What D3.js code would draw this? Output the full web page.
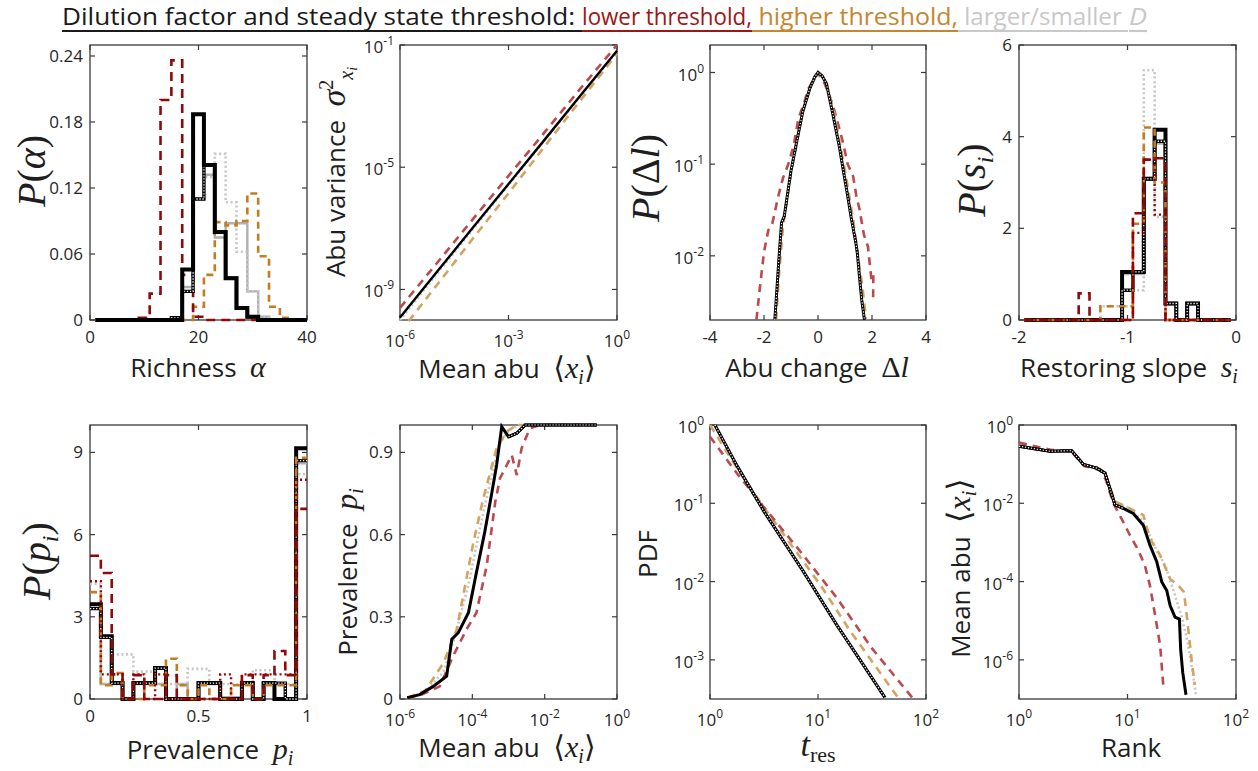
<!DOCTYPE html>
<html>
<head>
<meta charset="utf-8">
<script src="https://cdn.jsdelivr.net/npm/d3@7"></script>
<style>
  body { margin: 0; background: #fff; }
  text { white-space: pre; }
</style>
</head>
<body>
<svg id="fig" width="1258" height="771"></svg>
<script>
// ================= DATA =================

// Richness histogram (stairs edges, bin heights)
const richnessEdges   = [1,3,5,7,9,11,13,15,17,19,21,23,25,27,29,31,33,35,37,39,40];
const richnessBase    = [0,0,0,0,0,0,0,0,0.046,0.187,0.141,0.080,0.038,0.011,0.003,0,0,0,0,0];
const richnessSmallD  = [0,0,0,0,0,0,0,0.002,0.026,0.110,0.141,0.080,0.038,0.011,0.003,0,0,0,0,0];
const richnessLargeD  = [0,0,0,0,0,0,0,0,0.030,0.110,0.132,0.075,0.088,0.088,0.026,0.003,0,0,0,0];
const richnessGrayDot = [0,0,0,0,0,0,0,0.002,0.026,0.110,0.130,0.151,0.107,0.062,0.026,0.003,0,0,0,0];
const richnessLowThr  = [0,0,0,0,0.002,0.024,0.200,0.236,0.041,0.003,0,0,0,0,0,0,0,0,0,0];
const richnessHighThr = [0,0,0,0,0,0,0,0,0,0.012,0.041,0.089,0.086,0.090,0.115,0.058,0.012,0.002,0,0];

// Abundance variance vs mean abundance
const meanAbuGrid      = [1e-6,1e-5,1e-4,1e-3,1e-2,1e-1,1];
const varianceBase     = [1.2e-10,3.5e-9,1.0e-7,2.8e-6,8.0e-5,2.3e-3,6.5e-2];
const varianceGray     = [1.0e-10,3.0e-9,8.8e-8,2.6e-6,7.6e-5,2.2e-3,6.2e-2];
const varianceLowThr   = [2.5e-10,6.8e-9,1.9e-7,5.2e-6,1.4e-4,3.9e-3,1.0e-1];
const varianceHighThr  = [4.0e-11,1.3e-9,4.4e-8,1.4e-6,4.8e-5,1.6e-3,5.2e-2];

// Abundance change distribution
const changeBaseX  = [-1.6,-1.54,-1.45,-1.35,-1.25,-1.0,-0.75,-0.56,-0.31,-0.12,0,0.15,0.31,0.56,0.8,0.93,1.1,1.23,1.4,1.46,1.54,1.62,1.72];
const changeBaseP  = [0.002,0.0036,0.009,0.023,0.027,0.085,0.2,0.38,0.66,0.9,1.0,0.92,0.76,0.34,0.15,0.088,0.045,0.026,0.014,0.0105,0.0058,0.0033,0.002];
const changeLowX   = [-2.28,-2.16,-2.0,-1.84,-1.7,-1.47,-1.3,-1.1,-0.9,-0.73,-0.5,-0.36,-0.15,0,0.2,0.4,0.56,0.75,0.93,1.1,1.3,1.42,1.54,1.7,1.85,1.92,1.98,2.05,2.04];
const changeLowP   = [0.002,0.0043,0.011,0.019,0.022,0.045,0.07,0.1,0.16,0.31,0.48,0.66,0.85,0.97,0.82,0.58,0.43,0.27,0.17,0.1,0.074,0.045,0.032,0.017,0.0126,0.008,0.0055,0.0062,0.0033];
const changeHighX  = [-1.55,-1.45,-1.3,-1.0,-0.6,-0.3,0,0.3,0.6,1.0,1.3,1.5,1.65,1.78];
const changeHighP  = [0.002,0.006,0.02,0.08,0.33,0.68,1.0,0.8,0.36,0.085,0.025,0.009,0.0045,0.002];

// Restoring slope histogram
const slopeEdges    = [-1.95,-1.85,-1.75,-1.65,-1.55,-1.45,-1.35,-1.25,-1.15,-1.05,-0.95,-0.85,-0.75,-0.65,-0.55,-0.45,-0.35,-0.25,-0.15,-0.05];
const slopeBase     = [0,0,0,0,0,0,0,0,0,1.05,1.05,3.08,4.15,0.36,0,0.36,0,0,0];
const slopeSmallD   = [0,0,0,0,0,0,0,0,0,0.65,1.05,3.08,3.9,0.36,0,0.36,0,0,0];
const slopeLargeD   = [0,0,0,0,0,0,0,0,0,1.0,1.0,3.1,3.85,0,0,0,0,0,0];
const slopeGrayDot  = [0,0,0,0,0,0,0,0.3,0.3,0.3,0.65,5.45,2.25,0,0,0,0,0,0];
const slopeLowThr   = [0,0,0,0,0,0.58,0,0,0,0,2.33,3.5,3.53,0,0,0,0,0,0];
const slopeLowThr2  = [0,0,0,0,0,0,0,0,0,0,1.9,3.5,2.3,0,0,0,0,0,0];
const slopeHighThr  = [0,0,0,0,0,0,0,0.3,0.3,0.3,2.1,4.2,3.0,0,0,0,0,0,0];

// Prevalence histogram
const prevEdges     = [0,0.05,0.1,0.15,0.2,0.25,0.3,0.35,0.4,0.45,0.5,0.55,0.6,0.65,0.7,0.75,0.8,0.85,0.9,0.95,1.0];
const prevBase      = [3.46,2.29,0.58,0,0.58,0.58,1.13,0,0,0,0.58,0.58,0,0,0.58,0,0.58,0,0,9.15];
const prevSmallD    = [3.3,2.25,0.58,0,0.58,0.58,1.13,0,0,0,0.58,0.58,0,0,0.58,0,0.58,0.58,0,8.7];
const prevLargeD    = [3.3,0.55,0.55,0,0.55,0.55,0.55,0,0.55,0,0.55,0.55,0.07,0.07,0.55,0,0.55,0.55,0,8.6];
const prevGrayDot   = [4.2,0.55,1.63,1.63,1.0,1.0,0.55,0.55,0.55,1.1,1.1,0.55,0.55,0.55,0.55,1.05,1.05,0.55,0.55,8.2];
const prevLowThr    = [5.23,4.6,0.9,0,0.87,0,0,0.87,0,0,0,0,0,0,0.87,0,0.87,1.75,0.87,6.94];
const prevLowThr2   = [4.3,0.9,0.9,0,0.9,0,0.9,0,0,0,0,0,0.9,0,0.9,0.9,0.9,0.9,0.9,8.0];
const prevHighThr   = [3.9,0.5,0.95,0,0,0.5,0.5,1.47,0.5,0,0.5,0,0,0.5,0.5,0,0.5,0.5,0.5,8.8];

// Prevalence vs mean abundance
const occBaseX   = [1.58e-6,3.5e-6,8.3e-6,1.95e-5,2.7e-5,4.1e-5,7.8e-5,1.3e-4,2.2e-4,3.5e-4,4.7e-4,6.5e-4,1.0e-3,1.7e-3,2.9e-3,0.275];
const occBaseP   = [0.005,0.016,0.046,0.083,0.218,0.242,0.315,0.462,0.609,0.756,0.854,0.994,0.957,0.97,1.0,1.0];
const occGrayX   = [1.6e-6,5e-6,1.6e-5,3.2e-5,7.9e-5,1.6e-4,3.2e-4,5.6e-4,1e-3,2e-3,0.275];
const occGrayP   = [0.004,0.025,0.1,0.22,0.42,0.62,0.8,0.93,0.98,1.0,1.0];
const occLowX    = [1.6e-6,4e-6,1.26e-5,2.95e-5,6.9e-5,1.3e-4,2.5e-4,4.3e-4,5.8e-4,8.9e-4,1.23e-3,1.7e-3,2.3e-3,3.9e-3,7.4e-3,0.275];
const occLowP    = [0.004,0.016,0.046,0.157,0.254,0.315,0.487,0.719,0.805,0.853,0.89,0.817,0.915,0.988,1.0,1.0];
const occHighX   = [1.6e-6,5e-6,1.6e-5,3.7e-5,1.07e-4,2e-4,4.7e-4,8.9e-4,1.7e-3,0.275];
const occHighP   = [0.004,0.03,0.132,0.254,0.572,0.731,0.915,0.976,1.0,1.0];

// Residence time PDF
const tresBaseT  = [1.11,1.78,3.16,7.31,14.9,25.1,41.7];
const tresBaseP  = [1.0,0.30,0.079,0.0135,0.0028,0.00095,0.00033];
const tresLowT   = [1,1.78,3.16,6.31,14.8,31.6,75.9];
const tresLowP   = [0.71,0.24,0.089,0.028,0.0063,0.0014,0.00032];
const tresHighT  = [1,1.78,3.31,10.5,20,55];
const tresHighP  = [1.0,0.28,0.081,0.0091,0.0023,0.00033];

// Rank abundance
const rankBaseR  = [1,1.93,3.06,3.92,5.2,6.2,7.67,9.16,11.3,14.0,16.1,18.6,20.7,23,24.7,27.4,30.1,30.9,32.3,34.6];
const rankBaseA  = [0.288,0.214,0.221,0.098,0.079,0.059,0.0091,0.0074,0.0055,0.00275,0.00085,0.00032,9.8e-5,5.9e-5,2.45e-5,1.23e-5,1.1e-5,1.86e-6,4.7e-7,1.29e-7];
const rankGrayR  = [1,1.93,3.06,3.92,5.2,6.2,7.67,10,14,17.8,22.4,26.3,31.6,35.5,39.8,42.7];
const rankGrayA  = [0.3,0.214,0.221,0.1,0.08,0.06,0.0105,0.0079,0.0035,0.00079,0.00025,6.3e-5,1.26e-5,3.2e-6,5e-7,1.26e-7];
const rankLowR   = [1,2.0,3.0,3.98,5.62,6.31,7.4,8.83,10.5,12.6,14.5,16.1,17.8,20,21.4];
const rankLowA   = [0.355,0.229,0.219,0.089,0.071,0.04,0.01,0.004,0.00155,6.3e-4,2.5e-4,7.9e-5,1.6e-5,2.3e-6,2.1e-7];
const rankHighR  = [1,1.93,3.06,3.92,5.2,6.2,7.67,9.82,14.0,16.1,20,24.7,29.5,33.1,35.5,38.9,41.7];
const rankHighA  = [0.316,0.214,0.221,0.1,0.083,0.063,0.0112,0.0081,0.005,0.00126,0.00047,0.000117,7.9e-5,5.4e-5,1.1e-5,1.05e-6,2.3e-7];

// Tick values
const richnessXTicks = [0,20,40],  richnessYTicks = [0,0.06,0.12,0.18,0.24];
const varXTicks = [1e-6,1e-3,1],   varYTicks = [1e-9,1e-5,1e-1];
const changeXTicks = [-4,-2,0,2,4], changeYTicks = [1,0.1,0.01];
const slopeXTicks = [-2,-1,0],     slopeYTicks = [0,2,4,6];
const prevXTicks = [0,0.5,1],      prevYTicks = [0,3,6,9];
const occXTicks = [1e-6,1e-4,1e-2,1], occYTicks = [0,0.3,0.6,0.9];
const tresXTicks = [1,10,100],     tresYTicks = [1,0.1,0.01,0.001];
const rankXTicks = [1,10,100],     rankYTicks = [1,1e-2,1e-4,1e-6];

// ================= DRAWING =================
const svg = d3.select("#fig");
const SANS = "'Open Sans','Noto Sans',sans-serif";
const SERIF = "'Liberation Serif','DejaVu Serif',serif";
const INK = "#262626";

const STYLE = {
  black:    { stroke: "#000", width: 4 },
  blackLn:  { stroke: "#000", width: 3 },
  gray:     { stroke: "#b0b0b0", width: 2.4 },
  grayDot:  { stroke: "#c6c6c6", width: 2.6, dash: "2,2.6" },
  redDash:  { stroke: "#8e0a0a", width: 2.6, dash: "9,6" },
  redDot:   { stroke: "#9c0000", width: 2.4, dash: "2,3" },
  orDash:   { stroke: "#c27c22", width: 2.6, dash: "7,5" },
  redLine:  { stroke: "#bb4a4f", width: 2.6, dash: "8,6" },
  orLine:   { stroke: "#d3a363", width: 2.6, dash: "8,6" }
};

const logLabel = exp => ({ base: "10", exp: String(exp) });

function makePanel(id, box, x, y, xTicks, yTicks, xFmt, yFmt) {
  const [bx, by, bw, bh] = box;
  x.range([bx, bx + bw]);
  y.range([by + bh, by]);
  const g = svg.append("g");
  // frame
  g.append("rect").attr("x", bx).attr("y", by).attr("width", bw).attr("height", bh)
    .attr("fill", "none").attr("stroke", "#3a3a3a").attr("stroke-width", 1.3);
  const tl = 5;
  xTicks.forEach(t => {
    const px = x(t);
    g.append("line").attr("x1", px).attr("x2", px).attr("y1", by + bh).attr("y2", by + bh - tl).attr("stroke", "#3a3a3a").attr("stroke-width", 1.2);
    g.append("line").attr("x1", px).attr("x2", px).attr("y1", by).attr("y2", by + tl).attr("stroke", "#3a3a3a").attr("stroke-width", 1.2);
    const f = xFmt(t);
    if (typeof f === "string") {
      g.append("text").attr("x", px).attr("y", by + bh + 23).attr("text-anchor", "middle")
        .attr("font-family", SANS).attr("font-size", 17).attr("fill", INK).text(f);
    } else {
      const tx = g.append("text").attr("x", px).attr("y", by + bh + 27).attr("text-anchor", "middle")
        .attr("font-family", SANS).attr("font-size", 17).attr("fill", INK);
      tx.append("tspan").text(f.base);
      tx.append("tspan").attr("dy", -8).attr("font-size", 12).text(f.exp);
    }
  });
  yTicks.forEach(t => {
    const py = y(t);
    g.append("line").attr("x1", bx).attr("x2", bx + tl).attr("y1", py).attr("y2", py).attr("stroke", "#3a3a3a").attr("stroke-width", 1.2);
    g.append("line").attr("x1", bx + bw).attr("x2", bx + bw - tl).attr("y1", py).attr("y2", py).attr("stroke", "#3a3a3a").attr("stroke-width", 1.2);
    const f = yFmt(t);
    if (typeof f === "string") {
      g.append("text").attr("x", bx - 7).attr("y", py + 6).attr("text-anchor", "end")
        .attr("font-family", SANS).attr("font-size", 17).attr("fill", INK).text(f);
    } else {
      const tx = g.append("text").attr("x", bx - 6).attr("y", py + 8).attr("text-anchor", "end")
        .attr("font-family", SANS).attr("font-size", 17).attr("fill", INK);
      tx.append("tspan").text(f.base);
      tx.append("tspan").attr("dy", -8).attr("font-size", 12).text(f.exp);
    }
  });
  g.append("clipPath").attr("id", "clip-" + id).append("rect")
    .attr("x", bx - 3).attr("y", by - 3).attr("width", bw + 6).attr("height", bh + 6);
  const plot = g.append("g").attr("clip-path", `url(#clip-${id})`);
  return { plot, x, y };
}

function drawPath(p, pts, style, curve) {
  const gen = d3.line().x(d => p.x(d[0])).y(d => p.y(d[1])).curve(curve || d3.curveLinear);
  const path = p.plot.append("path").attr("d", gen(pts)).attr("fill", "none")
    .attr("stroke", style.stroke).attr("stroke-width", style.width)
    .attr("stroke-linejoin", "miter").attr("stroke-linecap", "butt");
  if (style.dash) path.attr("stroke-dasharray", style.dash);
  return path;
}
// black line with white dots running inside it
function drawChecker(p, pts, width, curve) {
  drawPath(p, pts, { stroke: "#000", width: width }, curve);
  drawPath(p, pts, { stroke: "#fff", width: width * 0.38, dash: "1.3,1.7" }, curve);
}
const stairs = (edges, vals) => {
  const pts = vals.map((v, i) => [edges[i], v]);
  pts.push([edges[vals.length], vals[vals.length - 1]]);
  return pts;
};
const zip = (a, b) => a.map((v, i) => [v, b[i]]);
const step = d3.curveStepAfter;

const linFmt = d => String(d);
const expFmt = d => logLabel(Math.round(Math.log10(d)));

// ---- a: richness ----
{
  const p = makePanel("a", [90, 45, 217, 275], d3.scaleLinear().domain([0, 40]), d3.scaleLinear().domain([0, 0.25]),
    richnessXTicks, richnessYTicks, linFmt, d => d === 0 ? "0" : d.toFixed(2));
  drawPath(p, stairs(richnessEdges, richnessLargeD), STYLE.gray, step);
  drawPath(p, stairs(richnessEdges, richnessGrayDot), STYLE.grayDot, step);
  drawPath(p, stairs(richnessEdges, richnessHighThr), STYLE.orDash, step);
  drawPath(p, stairs(richnessEdges, richnessLowThr), STYLE.redDash, step);
  drawChecker(p, stairs(richnessEdges, richnessSmallD), 3.4, step);
  drawPath(p, stairs(richnessEdges, richnessBase), STYLE.black, step);
}
// ---- b: variance ----
{
  const p = makePanel("b", [400, 45, 217, 275], d3.scaleLog().domain([1e-6, 1]), d3.scaleLog().domain([1e-10, 1e-1]),
    varXTicks, varYTicks, expFmt, expFmt);
  drawPath(p, zip(meanAbuGrid, varianceGray), STYLE.grayDot);
  drawPath(p, zip(meanAbuGrid, varianceHighThr), STYLE.orLine);
  drawPath(p, zip(meanAbuGrid, varianceLowThr), STYLE.redLine);
  drawPath(p, zip(meanAbuGrid, varianceBase), { stroke: "#000", width: 2.4 });
}
// ---- c: abundance change ----
{
  const p = makePanel("c", [710, 45, 216, 275], d3.scaleLinear().domain([-4, 4]), d3.scaleLog().domain([Math.pow(10, -2.7), Math.pow(10, 0.3)]),
    changeXTicks, changeYTicks, linFmt, expFmt);
  drawPath(p, zip(changeBaseX, changeBaseP), STYLE.grayDot);
  drawPath(p, zip(changeLowX, changeLowP), STYLE.redLine);
  drawPath(p, zip(changeHighX, changeHighP), STYLE.orLine);
  drawChecker(p, zip(changeBaseX, changeBaseP), 3);
}
// ---- d: restoring slope ----
{
  const p = makePanel("d", [1019, 45, 217, 275], d3.scaleLinear().domain([-2, 0]), d3.scaleLinear().domain([0, 6]),
    slopeXTicks, slopeYTicks, linFmt, linFmt);
  drawPath(p, stairs(slopeEdges, slopeLargeD), STYLE.gray, step);
  drawPath(p, stairs(slopeEdges, slopeGrayDot), STYLE.grayDot, step);
  drawPath(p, stairs(slopeEdges, slopeBase), STYLE.black, step);
  drawChecker(p, stairs(slopeEdges, slopeSmallD), 3.4, step);
  drawPath(p, stairs(slopeEdges, slopeHighThr), STYLE.orDash, step);
  drawPath(p, stairs(slopeEdges, slopeLowThr), STYLE.redDash, step);
  drawPath(p, stairs(slopeEdges, slopeLowThr2), STYLE.redDot, step);
}
// ---- e: prevalence histogram ----
{
  const p = makePanel("e", [90, 425, 217, 274], d3.scaleLinear().domain([0, 1]), d3.scaleLinear().domain([0, 10]),
    prevXTicks, prevYTicks, linFmt, linFmt);
  drawPath(p, stairs(prevEdges, prevLargeD), STYLE.gray, step);
  drawPath(p, stairs(prevEdges, prevGrayDot), STYLE.grayDot, step);
  drawPath(p, stairs(prevEdges, prevBase), STYLE.black, step);
  drawChecker(p, stairs(prevEdges, prevSmallD), 3.4, step);
  drawPath(p, stairs(prevEdges, prevHighThr), STYLE.orDash, step);
  drawPath(p, stairs(prevEdges, prevLowThr), STYLE.redDash, step);
  drawPath(p, stairs(prevEdges, prevLowThr2), STYLE.redDot, step);
}
// ---- f: prevalence vs mean abundance ----
{
  const p = makePanel("f", [400, 425, 217, 274], d3.scaleLog().domain([1e-6, 1]), d3.scaleLinear().domain([0, 1]),
    occXTicks, occYTicks, expFmt, linFmt);
  drawPath(p, zip(occGrayX, occGrayP), STYLE.grayDot);
  drawPath(p, zip(occHighX, occHighP), STYLE.orLine);
  drawPath(p, zip(occLowX, occLowP), STYLE.redLine);
  drawPath(p, zip(occBaseX, occBaseP), STYLE.blackLn);
  drawChecker(p, zip(occBaseX, occBaseP).slice(12), 3);
}
// ---- g: residence time ----
{
  const p = makePanel("g", [710, 425, 216, 274], d3.scaleLog().domain([1, 100]), d3.scaleLog().domain([Math.pow(10, -3.5), 1]),
    tresXTicks, tresYTicks, expFmt, expFmt);
  drawPath(p, zip(tresBaseT, tresBaseP), STYLE.gray);
  drawPath(p, zip(tresHighT, tresHighP), STYLE.orLine);
  drawPath(p, zip(tresLowT, tresLowP), STYLE.redLine);
  drawChecker(p, zip(tresBaseT, tresBaseP), 3.2);
}
// ---- h: rank abundance ----
{
  const p = makePanel("h", [1019, 425, 217, 274], d3.scaleLog().domain([1, 100]), d3.scaleLog().domain([1e-7, 1]),
    rankXTicks, rankYTicks, expFmt, expFmt);
  drawPath(p, zip(rankGrayR, rankGrayA), STYLE.grayDot);
  drawPath(p, zip(rankHighR, rankHighA), STYLE.orLine);
  drawPath(p, zip(rankLowR, rankLowA), STYLE.redLine);
  drawPath(p, zip(rankBaseR, rankBaseA), STYLE.blackLn);
  drawChecker(p, zip(rankBaseR, rankBaseA).slice(0, 8), 3);
}

// ================= LABELS =================
function richLabel(x, y, parts, rotate) {
  const t = svg.append("text").attr("text-anchor", "middle").attr("fill", "#1e1e1e");
  if (rotate) t.attr("transform", `translate(${x},${y}) rotate(-90)`);
  else t.attr("x", x).attr("y", y);
  let shift = 0;
  parts.forEach(p => {
    const s = t.append("tspan").text(p.t)
      .attr("font-family", p.serif ? SERIF : SANS)
      .attr("font-size", p.size)
      .attr("font-style", p.italic ? "italic" : "normal");
    const target = p.dy || 0;
    if (target !== shift) { s.attr("dy", target - shift); shift = target; }
  });
}
const sans = (t, size = 26) => ({ t, size });
const mi = (t, size = 30, dy = 0) => ({ t, size, serif: true, italic: true, dy });
const mr = (t, size = 30, dy = 0) => ({ t, size, serif: true, dy });

// x labels
richLabel(198, 377, [sans("Richness  "), mi("α")]);
richLabel(507, 378, [sans("Mean abu  "), mr("⟨"), mi("x"), mi("i", 20, 6), mr("⟩")]);
richLabel(817, 377, [sans("Abu change  "), mr("Δ"), mi("l")]);
richLabel(1129, 377, [sans("Restoring slope  "), mi("s"), mi("i", 20, 6)]);
richLabel(210, 759, [sans("Prevalence  "), mi("p"), mi("i", 20, 6)]);
richLabel(507, 757, [sans("Mean abu  "), mr("⟨"), mi("x"), mi("i", 20, 6), mr("⟩")]);
richLabel(818, 756, [mi("t", 34), mr("res", 22, 6)]);
richLabel(1131, 757, [sans("Rank")]);

// y labels (rotated)
richLabel(45, 171, [mi("P", 40), mr("(", 40), mi("α", 40), mr(")", 40)], true);
richLabel(345, 172, [sans("Abu variance  "), mi("σ", 34), mr("2", 20, -12), mi("x", 20, 8), mi("i", 14, 12)], true);
richLabel(659, 178, [mi("P", 40), mr("(", 40), mr("Δ", 40), mi("l", 40), mr(")", 40)], true);
richLabel(985, 180, [mi("P", 40), mr("(", 40), mi("s", 40), mi("i", 24, 8), mr(")", 40)], true);
richLabel(50, 561, [mi("P", 40), mr("(", 40), mi("p", 40), mi("i", 24, 8), mr(")", 40)], true);
richLabel(357, 572, [sans("Prevalence  "), mi("p", 32), mi("i", 20, 6)], true);
richLabel(657, 554, [sans("PDF")], true);
richLabel(970, 568, [sans("Mean abu  "), mr("⟨", 32), mi("x", 32), mi("i", 20, 6), mr("⟩", 32)], true);

// ================= TITLE =================
const titleSegments = [
  { text: "Dilution factor and steady state threshold: ", color: "#1a1a1a", x0: 62, x1: 582 },
  { text: "lower threshold,", color: "#9c1616", x0: 582, x1: 752 },
  { text: " higher threshold,", color: "#c58630", x0: 752, x1: 958 },
  { text: " larger/smaller ", color: "#c8c8c8", x0: 958, x1: 1128 },
  { text: "D", color: "#c8c8c8", x0: 1129, x1: 1147, italic: true }
];
titleSegments.forEach(s => {
  svg.append("text").attr("x", s.x0).attr("y", 25)
    .attr("font-family", SANS).attr("font-size", 24).attr("fill", s.color)
    .attr("font-style", s.italic ? "italic" : "normal")
    .attr("textLength", s.x1 - s.x0).attr("lengthAdjust", "spacingAndGlyphs")
    .text(s.text);
  svg.append("line").attr("x1", s.x0).attr("x2", s.x1).attr("y1", 31).attr("y2", 31)
    .attr("stroke", s.color).attr("stroke-width", 2.2);
});
</script>
</body>
</html>
